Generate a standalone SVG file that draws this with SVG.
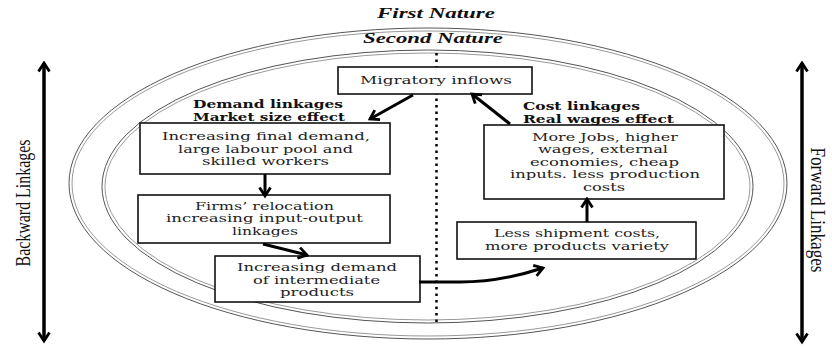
<svg xmlns="http://www.w3.org/2000/svg" width="832" height="347" viewBox="0 0 832 347">
<style>
.box{fill:#fff;stroke:#111;stroke-width:1.6}
.t{font-family:"DejaVu Serif","Liberation Serif",serif;font-size:10.7px;fill:#222;text-anchor:middle}
.b{font-family:"DejaVu Serif","Liberation Serif",serif;font-size:11px;font-weight:bold;fill:#111}
.bi{font-family:"Liberation Serif","Times New Roman",serif;font-size:14px;font-weight:bold;font-style:italic;fill:#111;text-anchor:middle}
.side{font-family:"Liberation Serif","Times New Roman",serif;font-size:22px;fill:#111;text-anchor:middle}
.e1{fill:none;stroke:#555;stroke-width:1}
.e2{fill:none;stroke:#999;stroke-width:1}
.arr{fill:none;stroke:#000;stroke-width:3;marker-end:url(#chev)}
.dbl{fill:none;stroke:#000;stroke-width:3.5;marker-start:url(#chev);marker-end:url(#chev)}
</style>
<defs>
<marker id="chev" viewBox="0 0 14 14" refX="11.5" refY="7" markerWidth="14" markerHeight="14" markerUnits="userSpaceOnUse" orient="auto-start-reverse">
<path d="M3,1.5 L11.5,7 L3,12.5" fill="none" stroke="#000" stroke-width="2.8" stroke-linejoin="miter"/>
</marker>
</defs>
<rect width="832" height="347" fill="#fff"/>
<g id="natures">
<ellipse class="e1" cx="428" cy="183.5" rx="359" ry="155.5"/>
<ellipse class="e2" cx="428" cy="183.5" rx="356" ry="152.5"/>
<ellipse class="e1" cx="427.5" cy="186.5" rx="325.5" ry="136.5"/>
<ellipse class="e2" cx="427.5" cy="186.5" rx="322.5" ry="133.5"/>
<text class="bi" x="436" y="18" textLength="118" lengthAdjust="spacingAndGlyphs">First Nature</text>
<text class="bi" x="433" y="43" textLength="140" lengthAdjust="spacingAndGlyphs">Second Nature</text>
</g>
<g id="divider">
<line x1="436.5" y1="53" x2="436.5" y2="322" stroke="#000" stroke-width="2.5" stroke-dasharray="2.5 4"/>
</g>
<g id="labels">
<text class="b" x="193" y="107.5" textLength="150" lengthAdjust="spacingAndGlyphs">Demand linkages</text>
<text class="b" x="193" y="120.5" textLength="152" lengthAdjust="spacingAndGlyphs">Market size effect</text>
<text class="b" x="523" y="110" textLength="117" lengthAdjust="spacingAndGlyphs">Cost linkages</text>
<text class="b" x="523" y="123" textLength="151" lengthAdjust="spacingAndGlyphs">Real wages effect</text>
</g>
<g id="migratory">
<rect class="box" x="338" y="67" width="194" height="27"/>
<text class="t" x="436" y="84" textLength="152" lengthAdjust="spacingAndGlyphs">Migratory inflows</text>
</g>
<g id="final-demand">
<rect class="box" x="140" y="123" width="250" height="51"/>
<text class="t" x="266" y="140" textLength="208" lengthAdjust="spacingAndGlyphs">Increasing final demand,</text>
<text class="t" x="265.5" y="152.5" textLength="175" lengthAdjust="spacingAndGlyphs">large labour pool and</text>
<text class="t" x="265.5" y="165" textLength="127" lengthAdjust="spacingAndGlyphs">skilled workers</text>
</g>
<g id="firms">
<rect class="box" x="138" y="195" width="252" height="48"/>
<text class="t" x="264.5" y="209.5" textLength="139" lengthAdjust="spacingAndGlyphs">Firms’ relocation</text>
<text class="t" x="264.5" y="222" textLength="197" lengthAdjust="spacingAndGlyphs">increasing input-output</text>
<text class="t" x="265" y="234.5" textLength="66" lengthAdjust="spacingAndGlyphs">linkages</text>
</g>
<g id="intermediate">
<rect class="box" x="215" y="256" width="205" height="46"/>
<text class="t" x="317" y="271" textLength="160" lengthAdjust="spacingAndGlyphs">Increasing demand</text>
<text class="t" x="316.5" y="283.5" textLength="127" lengthAdjust="spacingAndGlyphs">of intermediate</text>
<text class="t" x="317" y="296" textLength="74" lengthAdjust="spacingAndGlyphs">products</text>
</g>
<g id="shipment">
<rect class="box" x="457" y="222" width="239" height="37"/>
<text class="t" x="577" y="236.5" textLength="166" lengthAdjust="spacingAndGlyphs">Less shipment costs,</text>
<text class="t" x="577" y="249.5" textLength="184" lengthAdjust="spacingAndGlyphs">more products variety</text>
</g>
<g id="jobs">
<rect class="box" x="484" y="125" width="240" height="74"/>
<text class="t" x="605" y="140.5" textLength="146" lengthAdjust="spacingAndGlyphs">More Jobs, higher</text>
<text class="t" x="603" y="153" textLength="130" lengthAdjust="spacingAndGlyphs">wages, external</text>
<text class="t" x="604.5" y="165.5" textLength="149" lengthAdjust="spacingAndGlyphs">economies, cheap</text>
<text class="t" x="605" y="178" textLength="190" lengthAdjust="spacingAndGlyphs">inputs. less production</text>
<text class="t" x="604" y="190.5" textLength="42" lengthAdjust="spacingAndGlyphs">costs</text>
</g>
<g id="side-labels">
<text class="side" transform="translate(30,203) rotate(-90)" textLength="127" lengthAdjust="spacingAndGlyphs">Backward Linkages</text>
<text class="side" transform="translate(811,210) rotate(90)" textLength="125" lengthAdjust="spacingAndGlyphs">Forward Linkages</text>
</g>
<g id="connectors">
<line class="arr" x1="413" y1="95" x2="370" y2="119"/>
<line class="arr" x1="265" y1="174" x2="265" y2="196"/>
<line class="arr" x1="263" y1="244" x2="307" y2="255"/>
<path class="arr" d="M419,282 L460,282 Q500,282 543,268"/>
<line class="arr" x1="587" y1="222" x2="587" y2="199"/>
<line class="arr" x1="510" y1="124" x2="472" y2="94"/>
<line class="dbl" x1="44" y1="63" x2="44" y2="341"/>
<line class="dbl" x1="802" y1="63" x2="802" y2="342"/>
</g>
</svg>
